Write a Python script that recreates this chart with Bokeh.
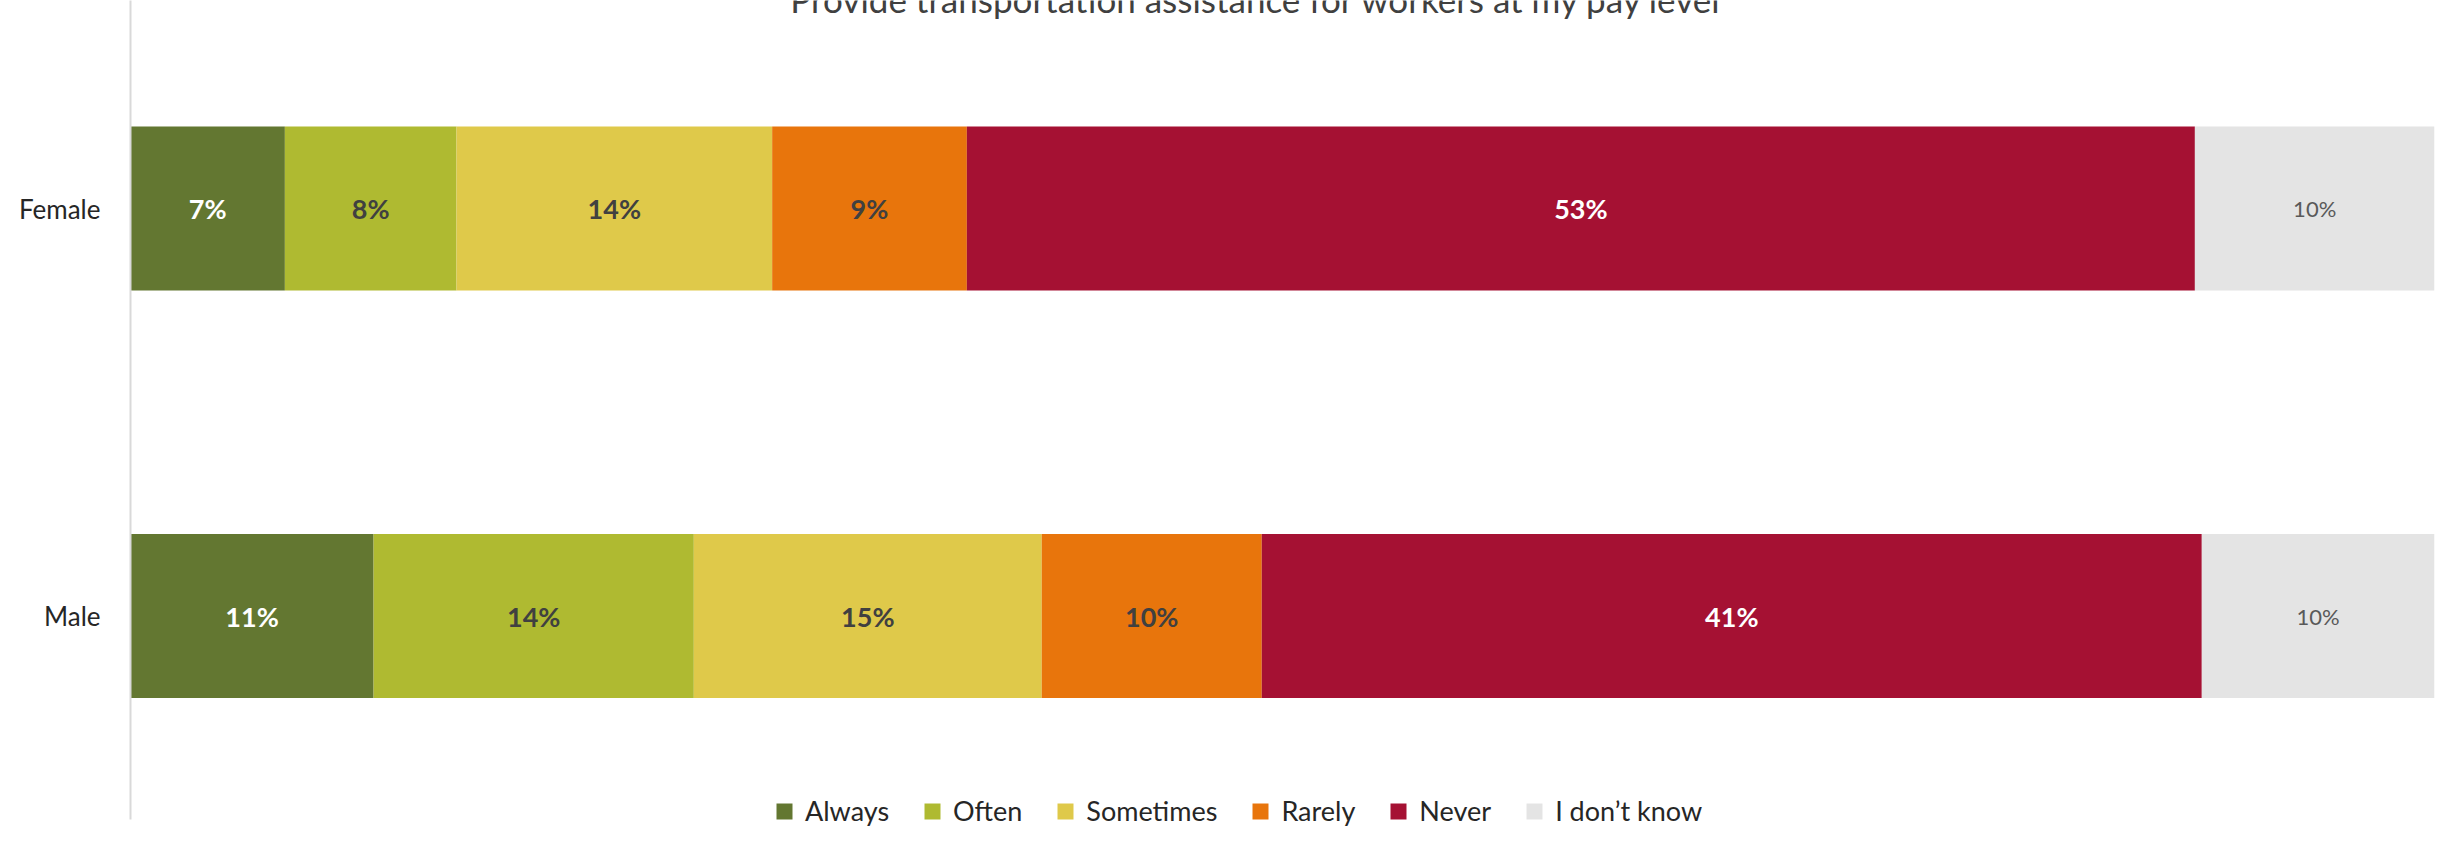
from bokeh.plotting import figure
from bokeh.models import ColumnDataSource, Range1d, FixedTicker, Label
from bokeh.embed import file_html
from bokeh.resources import INLINE
from bokeh.core.properties import value
import numpy as np

# ---------------- data ----------------
title_text = "Provide transportation assistance for workers at my pay level"
categories = ["Female", "Male"]
responses = ["Always", "Often", "Sometimes", "Rarely", "Never", "I don\u2019t know"]
keys = ["always", "often", "sometimes", "rarely", "never", "dont_know"]

always = [6.7, 10.55]
often = [7.45, 13.9]
sometimes = [13.7, 15.1]
rarely = [8.45, 9.55]
never = [53.3, 40.8]
dont_know = [10.4, 10.1]

labels_always = ["7%", "11%"]
labels_often = ["8%", "14%"]
labels_sometimes = ["14%", "15%"]
labels_rarely = ["9%", "10%"]
labels_never = ["53%", "41%"]
labels_dont_know = ["10%", "10%"]

colors = ["#637731", "#AFBA31", "#DFC94A", "#E8750C", "#A51133", "#E4E4E4"]
label_colors = ["#FFFFFF", "#404040", "#404040", "#404040", "#FFFFFF", "#595959"]
label_styles = ["bold", "bold", "bold", "bold", "bold", "normal"]
label_sizes = ["27px", "27px", "27px", "27px", "27px", "22px"]

series = [always, often, sometimes, rarely, never, dont_know]
series_labels = [labels_always, labels_often, labels_sometimes, labels_rarely,
                 labels_never, labels_dont_know]

# ---------------- layout ----------------
W, H = 2437, 827
px_per_unit = 407.5
first_center_from_top = 208.0
y_top = 1.5 + first_center_from_top / px_per_unit
y_bot = y_top - H / px_per_unit

y_pos = [len(categories) - i - 0.5 for i in range(len(categories))]

data = {"y": y_pos}
for k, s in zip(keys, series):
    data[k] = s
source = ColumnDataSource(data)

p = figure(width=W, height=H, output_backend="svg", toolbar_location=None,
           x_range=Range1d(0, 100), y_range=Range1d(y_bot, y_top),
           x_axis_location=None, min_border_left=130, min_border_right=3,
           min_border_top=0, min_border_bottom=0)
p.title.visible = False
p.outline_line_color = None
p.xgrid.visible = False
p.ygrid.visible = False
p.background_fill_color = "white"
p.border_fill_color = "white"

p.hbar_stack(keys, y="y", height=164 / px_per_unit, fill_color=colors, line_color=None,
             source=source, legend_label=responses)

# data labels
cum = np.zeros(len(categories))
for vals, labs, c, st, sz in zip(series, series_labels, label_colors, label_styles, label_sizes):
    v = np.array(vals, dtype=float)
    centers = cum + v / 2.0
    cum = cum + v
    p.text(x=list(centers), y=y_pos, text=labs, text_align="center",
           text_baseline="middle", text_color=c, text_font=value("Lato"),
           text_font_size=sz, text_font_style=st)

# y axis
yax = p.yaxis[0]
yax.ticker = FixedTicker(ticks=y_pos)
yax.major_label_overrides = {y: c for y, c in zip(y_pos, categories)}
yax.bounds = (0, y_top)
yax.axis_line_color = "#D9D9D9"
yax.axis_line_width = 2
yax.major_tick_line_color = None
yax.minor_tick_line_color = None
yax.major_tick_out = 0
yax.major_tick_in = 0
yax.major_label_standoff = 30
yax.major_label_text_font = "Lato"
yax.major_label_text_font_size = "26px"
yax.major_label_text_color = "#262626"

# title (partially cut at top like the reference)
p.add_layout(Label(x=48.87, y=y_top + 2 / px_per_unit, text=title_text,
                   text_align="center", text_baseline="alphabetic",
                   text_font="Lato", text_font_size="35px", text_color="#404040"))

# legend
lg = p.legend[0]
lg.orientation = "horizontal"
lg.location = (644, 0)
lg.glyph_width = 20
lg.glyph_height = 20
lg.label_standoff = 11
lg.spacing = 33
lg.padding = 0
lg.margin = 0
lg.border_line_color = None
lg.background_fill_alpha = 0
lg.label_text_font = "Lato"
lg.label_text_font_size = "27px"
lg.label_text_color = "#262626"
lg.label_height = 20

open("out.html", "w").write(file_html(p, INLINE))
